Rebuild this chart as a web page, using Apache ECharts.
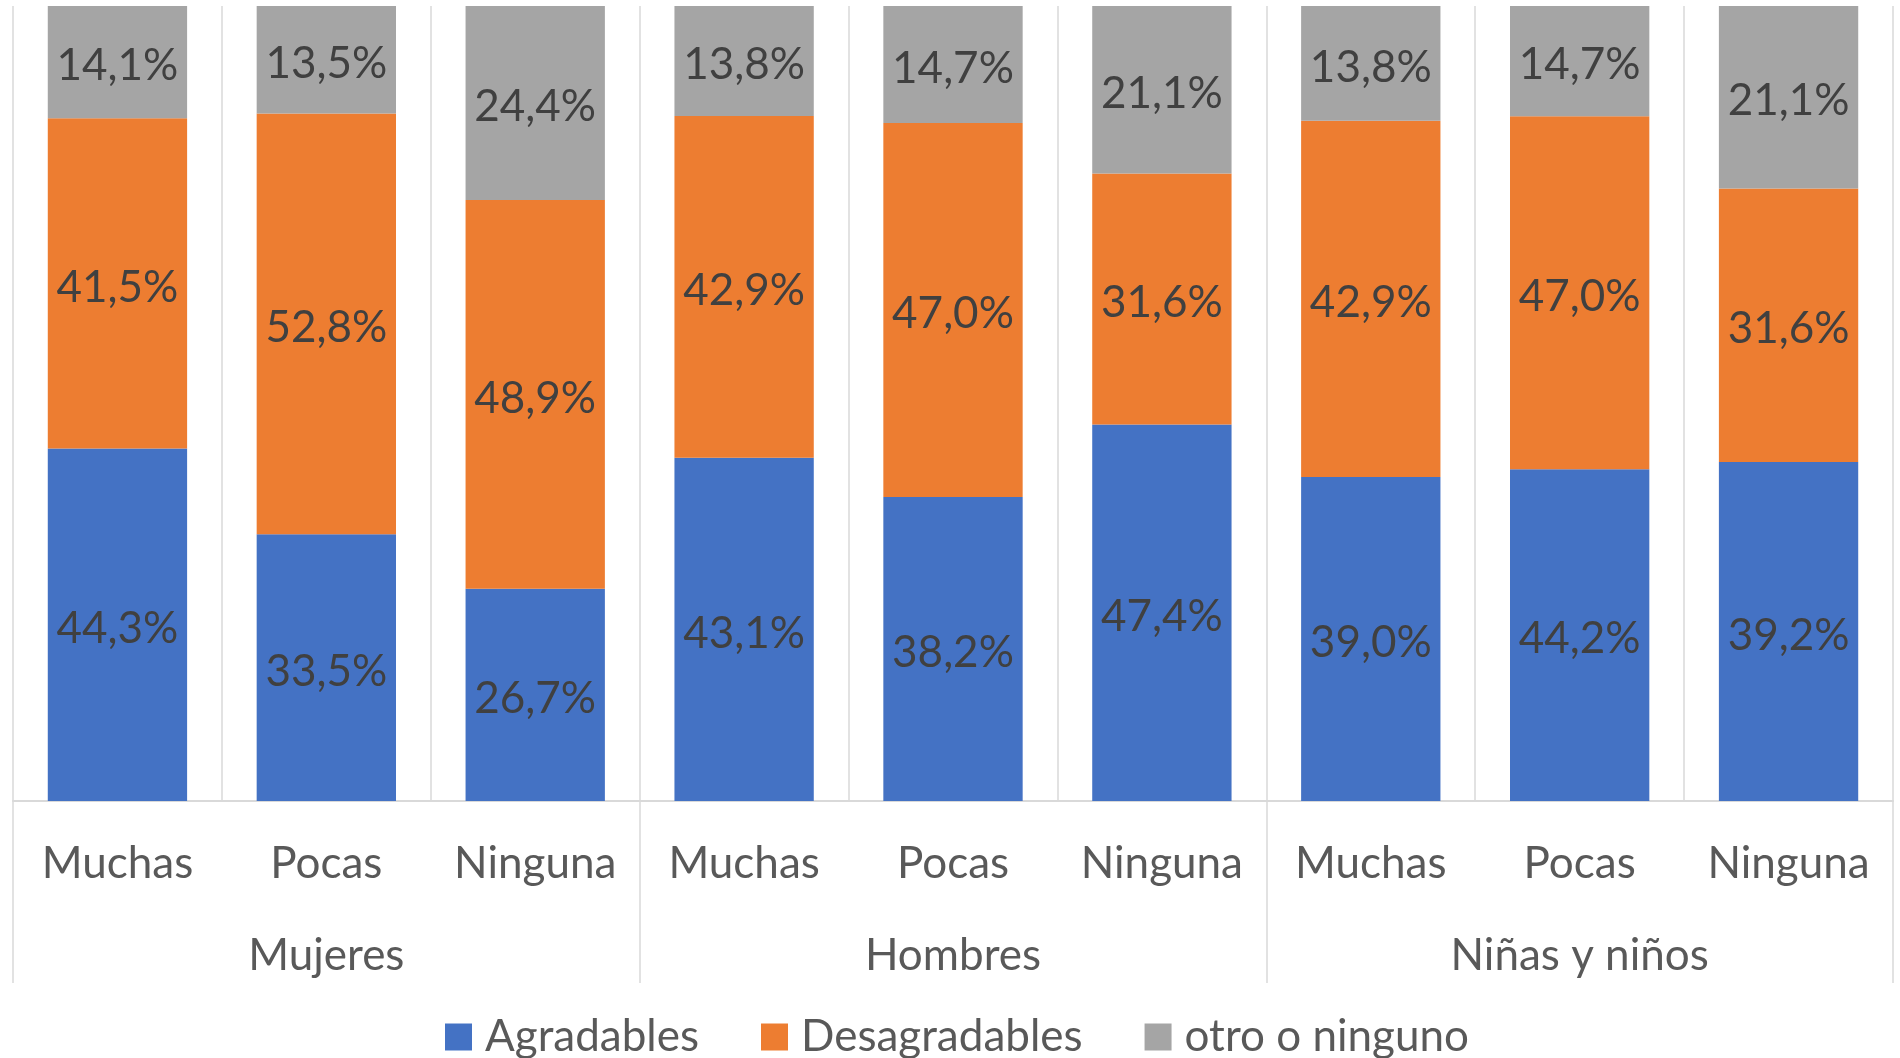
<!DOCTYPE html>
<html>
<head>
<meta charset="utf-8">
<script src="https://cdn.jsdelivr.net/npm/echarts@6/dist/echarts.min.js"></script>
<style>
html,body{margin:0;padding:0;background:#fff;}
#chart{width:1900px;height:1058px;}
</style>
</head>
<body>
<div id="chart"></div>
<script>
// Categories
const subCategories = ['Muchas','Pocas','Ninguna','Muchas','Pocas','Ninguna','Muchas','Pocas','Ninguna'];
const groups = ['Mujeres','Hombres','Niñas y niños'];
const seriesNames = ['Agradables','Desagradables','otro o ninguno'];

// Values (as labelled in the chart, %)
const agradables    = [44.3, 33.5, 26.7, 43.1, 38.2, 47.4, 39.0, 44.2, 39.2];
const desagradables = [41.5, 52.8, 48.9, 42.9, 47.0, 31.6, 42.9, 47.0, 31.6];
const otro          = [14.1, 13.5, 24.4, 13.8, 14.7, 21.1, 13.8, 14.7, 21.1];

const raw = [agradables, desagradables, otro];
const colors = ['#4472C4','#ED7D31','#A5A5A5'];

// 100% stacked: each column normalised to its own total
const totals = subCategories.map((_, i) => agradables[i] + desagradables[i] + otro[i]);
const shares = raw.map(arr => arr.map((v, i) => v / totals[i] * 100));

const FONT = 'Lato';
const fmt = v => v.toFixed(1).replace('.', ',') + '%';

const chart = echarts.init(document.getElementById('chart'), null, {renderer:'canvas'});
const option = {
  animation: false,
  textStyle: {fontFamily: FONT},
  grid: {left: 13, right: 7, top: 6, bottom: 257, containLabel: false},
  legend: {
    left: 440, top: 1010,
    itemWidth: 27, itemHeight: 27, itemGap: 62,
    icon: 'rect',
    textStyle: {fontFamily: FONT, fontSize: 44, color: '#595959', padding: [0,0,0,8]},
    data: seriesNames
  },
  xAxis: [
    {
      type: 'category', data: subCategories, position: 'bottom',
      axisLine: {show: true, lineStyle: {color: '#D9D9D9', width: 2}},
      axisTick: {show: false},
      splitLine: {show: true, lineStyle: {color: '#D9D9D9', width: 1.5}},
      axisLabel: {fontFamily: FONT, fontSize: 44, color: '#595959', margin: 41, interval: 0}
    },
    {
      type: 'category', data: groups, position: 'bottom',
      axisLine: {show: false},
      axisTick: {show: true, length: 182, lineStyle: {color: '#D9D9D9', width: 1.5}},
      splitLine: {show: false},
      axisLabel: {fontFamily: FONT, fontSize: 44, color: '#595959', margin: 133, interval: 0}
    }
  ],
  yAxis: {type: 'value', min: 0, max: 100, show: false},
  series: seriesNames.map((name, s) => ({
    name, type: 'bar', stack: 'total', xAxisIndex: 0,
    barCategoryGap: '33.3%',
    itemStyle: {color: colors[s]},
    label: {
      show: true, position: 'inside', offset: [0, 4],
      fontFamily: FONT, fontSize: 44, color: '#404040',
      formatter: p => fmt(raw[s][p.dataIndex])
    },
    data: shares[s]
  }))
};
chart.setOption(option);
</script>
</body>
</html>
